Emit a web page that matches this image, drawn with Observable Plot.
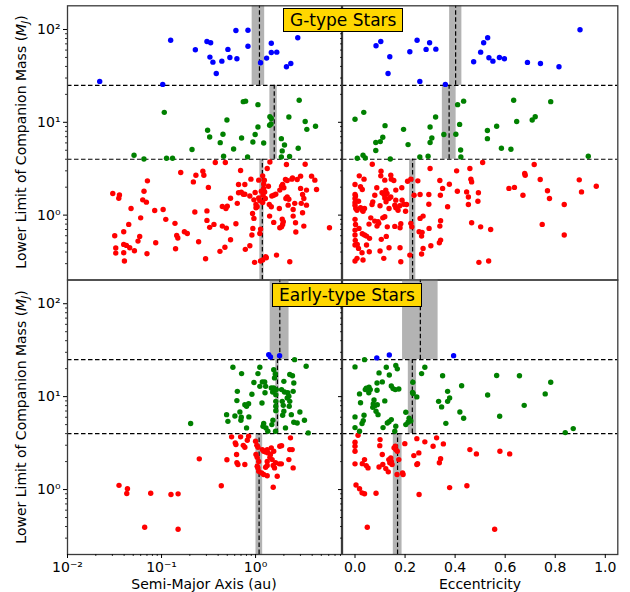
<!DOCTYPE html>
<html><head><meta charset="utf-8">
<script src="https://cdn.jsdelivr.net/npm/d3@7"></script>
<script src="https://cdn.jsdelivr.net/npm/@observablehq/plot@0.6"></script>
<style>
body{margin:0;background:#fff;}
#fig{position:relative;width:630px;height:592px;font-family:"DejaVu Sans",sans-serif;overflow:hidden;background:#fff}
.panel{position:absolute}
.ylab{position:absolute;font-size:14px;white-space:nowrap;transform:translate(-50%,-50%) rotate(-90deg);color:#000}
.xlab{position:absolute;font-size:14px;white-space:nowrap;transform:translate(-50%,-50%);color:#000}
.tbox{position:absolute;background:#FFD700;border:1px solid #000;font-size:17px;line-height:22px;padding:0 6px;white-space:nowrap;color:#000}
</style></head>
<body><div id="fig"></div>
<script>
// ---------- data ----------
const panelTitles = ["G-type Stars", "Early-type Stars"];
const massBins = [4, 25];
const yDomain = [0.2, 180];
const smaDomain = [0.01, 8.2];
const eccDomain = [-0.05, 1.05];
const yTickValues = [1, 10, 100];
const yTickLabels = ["10\u2070", "10\u00b9", "10\u00b2"];
const smaTickValues = [0.01, 0.1, 1];
const smaTickLabels = ["10\u207b\u00b2", "10\u207b\u00b9", "10\u2070"];
const eccTickValues = [0, 0.2, 0.4, 0.6, 0.8, 1.0];
const eccTickLabels = ["0.0", "0.2", "0.4", "0.6", "0.8", "1.0"];

// bands: [low, median, high] for red / green / blue bins
const gSmaBands = [[1.11, 1.18, 1.23], [1.42, 1.58, 1.70], [0.92, 1.10, 1.25]];
const gEccBands = [[0.218, 0.230, 0.243], [0.349, 0.376, 0.404], [0.378, 0.402, 0.427]];
const eSmaBands = [[1.01, 1.09, 1.19], [1.64, 1.71, 1.78], [1.43, 1.81, 2.27]];
const eEccBands = [[0.153, 0.170, 0.188], [0.213, 0.229, 0.246], [0.190, 0.261, 0.332]];

// G-type stars: [semi-major axis (au), mass (MJ)]
const gSmaBlue = [[0.022,27.6],[0.103,25.6],[0.125,76.7],[0.229,60.5],[0.304,74.3],[0.333,71.9],[0.327,50.4],[0.352,44.5],[0.382,33.6],[0.438,45.6],[0.508,61],[0.533,50],[0.633,48.4],[0.618,97.5],[0.83,98],[0.83,66],[1.13,43.9],[1.31,49.2],[1.47,71.2],[1.47,56.6],[1.68,57],[2.13,39.7],[2.37,43],[2.81,81.5]];
const gSmaGreen = [[0.107,12.8],[0.051,4.42],[0.065,4.03],[0.113,4.10],[0.131,4.10],[0.211,5.09],[0.309,8.2],[0.325,6.95],[0.421,6.04],[0.45,7.43],[0.457,4.31],[0.496,10.6],[0.584,5.16],[0.71,6.78],[0.74,16.7],[0.783,16.9],[0.822,4.24],[0.937,6.14],[0.99,7.38],[1.06,8.9],[1.06,15.5],[1.22,5.99],[1.41,9.3],[1.46,9.6],[1.42,11.5],[1.47,11.0],[1.88,6.67],[2.03,5.70],[1.92,4.92],[1.88,4.24],[2.30,4.28],[2.26,11.4],[2.91,17.3],[2.84,5.25],[3.37,10.2],[3.51,8.4],[4.34,9.06]];
const gSmaRed = [[0.373,3.69],[0.477,3.69],[0.160,2.88],[0.232,2.69],[0.275,2.97],[0.282,2.69],[0.218,2.28],[0.0708,2.34],[0.315,1.99],[0.0651,1.81],[0.0303,1.71],[0.0357,1.65],[0.0351,1.52],[0.0631,1.46],[0.069,1.38],[0.0474,1.18],[0.0846,1.12],[0.104,1.15],[0.226,1.08],[0.304,1.11],[0.443,1.24],[0.484,1.18],[0.500,1.25],[0.060,0.935],[0.111,0.90],[0.304,0.877],[0.0448,0.794],[0.139,0.815],[0.361,0.794],[0.325,0.738],[0.443,0.762],[0.489,0.725],[0.0318,0.599],[0.0396,0.661],[0.0586,0.590],[0.0562,0.525],[0.145,0.605],[0.149,0.566],[0.175,0.661],[0.188,0.635],[0.0867,0.504],[0.248,0.516],[0.0326,0.442],[0.0396,0.484],[0.0423,0.472],[0.0459,0.445],[0.0326,0.390],[0.0396,0.393],[0.0515,0.413],[0.070,0.384],[0.141,0.434],[0.0403,0.320],[0.294,0.339],[0.418,0.407],[0.472,0.450],
[1.33,3.18],[1.42,3.74],[2.13,3.51],[3.37,3.53],[0.693,3.02],[0.659,2.14],[0.769,2.14],[0.892,2.44],[1.08,2.38],[1.19,2.65],[0.542,1.52],[0.659,1.74],[0.705,1.77],[0.74,1.68],[0.769,1.68],[0.639,1.34],[0.869,1.61],[0.99,1.75],[0.96,1.46],[1.01,1.30],[1.04,1.23],[1.01,1.20],[1.08,1.53],[1.11,1.44],[1.15,1.81],[1.22,1.94],[1.22,2.17],[1.24,2.38],[1.25,1.78],[1.27,1.51],[1.20,1.64],[1.19,1.37],[1.37,2.05],[1.40,1.30],[1.47,1.23],[1.49,1.61],[1.56,1.64],[1.64,1.68],[1.79,1.18],[1.81,1.86],[1.89,2.05],[2.00,1.97],[1.94,2.14],[2.08,2.42],[2.17,2.36],[2.43,2.44],[2.47,2.52],[2.77,2.42],[3.01,2.63],[2.10,1.51],[2.17,1.57],[2.26,1.48],[2.22,1.28],[2.61,1.34],[3.06,1.34],[3.48,1.28],[3.01,1.94],[3.48,1.86],[3.16,1.67],[3.26,1.51],[3.94,2.63],[4.27,2.38],[4.45,1.89],[2.51,1.15],[2.51,0.976],[3.16,1.06],[0.929,1.04],[0.96,0.922],[1.41,0.976],[1.56,0.835],[1.92,0.906],[1.97,0.847],[1.94,0.794],[1.89,0.748],[1.81,0.730],[2.66,0.827],[3.26,0.762],[2.68,0.657],[6.11,0.730],[0.914,0.610],[0.936,0.719],[0.542,0.542],[0.618,0.806],[1.13,0.707],[1.11,0.635],[0.778,0.428],[0.869,0.468],[0.976,0.310],[1.13,0.320],[1.19,0.328],[1.28,0.356],[1.30,0.347],[1.67,0.371],[2.31,0.315]];

// G-type stars: [eccentricity, mass (MJ)]
const gEccBlue = [[0.084,66.8],[0.103,74.3],[0.139,50.9],[0.132,33.6],[0.219,57.5],[0.248,76.7],[0.259,27.6],[0.284,61],[0.298,71.9],[0.323,61.4],[0.361,25.6],[0.474,45],[0.502,57],[0.514,71.9],[0.530,81.5],[0.535,49.6],[0.551,45.6],[0.577,50],[0.597,48.4],[0.689,44.2],[0.741,43],[0.815,39.7],[0.899,99.3]];
const gEccGreen = [[0.0,10.8],[0.035,12.8],[0.009,4.10],[0.032,4.42],[0.041,4.13],[0.083,4.96],[0.083,6.05],[0.101,6.2],[0.111,6.9],[0.120,9.2],[0.141,4.03],[0.194,8.4],[0.212,5.75],[0.259,4.24],[0.292,4.31],[0.300,8.9],[0.307,6.78],[0.300,6.05],[0.322,11.4],[0.355,7.38],[0.403,7.43],[0.410,15.5],[0.434,16.9],[0.418,9.5],[0.422,5.04],[0.423,4.24],[0.529,8.15],[0.529,6.67],[0.566,9.06],[0.585,5.25],[0.623,5.13],[0.634,17.3],[0.646,10.2],[0.708,10.6],[0.720,11.5],[0.782,16.7],[0.932,4.31]];
const gEccRed = [[0.069,3.53],[0.104,2.97],[0.017,2.65],[0.036,2.44],[0.103,2.65],[0.119,2.38],[0.143,2.69],[0.145,2.44],[0.155,2.36],[0.0,2.14],[0.022,2.02],[0.029,1.89],[0.087,1.97],[0.123,1.86],[0.128,1.71],[0.108,1.74],[0.163,1.86],[0.187,1.97],
[0.0,1.67],[0.002,1.61],[0.0,1.51],[0.0,1.37],[0.0,1.28],[0.003,1.18],[0.008,1.13],[0.014,1.41],[0.022,1.20],[0.030,1.13],[0.038,1.18],[0.032,1.10],[0.079,1.64],[0.116,1.67],[0.119,1.53],[0.071,1.39],[0.068,1.30],[0.100,1.26],[0.124,1.39],[0.136,1.51],[0.143,1.57],[0.163,1.45],[0.188,1.45],[0.195,1.31],[0.179,1.26],[0.159,1.28],[0.136,1.18],[0.163,1.20],[0.172,1.13],[0.206,1.30],[0.202,1.10],
[0.223,2.44],[0.210,2.32],[0.236,1.64],[0.251,2.34],[0.260,1.67],[0.295,1.67],[0.295,1.31],[0.300,3.18],[0.339,2.36],[0.350,1.94],[0.377,2.15],[0.341,1.64],[0.406,3.00],[0.409,1.81],[0.459,3.18],[0.463,2.44],[0.446,1.78],[0.453,1.57],[0.453,1.30],[0.493,1.74],
[0.0,0.90],[0.002,0.794],[0.0,0.690],[0.0,0.610],[0.001,0.535],[0.0,0.476],[0.016,0.719],[0.029,0.629],[0.038,0.610],[0.046,0.594],[0.009,0.484],[0.014,0.438],[0.046,0.476],[0.063,0.935],[0.056,0.800],[0.058,0.562],[0.0,0.320],[0.008,0.342],[0.028,0.393],[0.032,0.328],[0.079,0.862],[0.092,0.847],[0.088,0.762],[0.111,0.935],[0.119,0.959],[0.095,0.815],[0.129,0.748],[0.125,0.590],[0.105,0.548],[0.159,0.756],[0.180,0.730],[0.183,0.806],[0.136,0.445],[0.180,0.445],[0.100,0.410],[0.115,0.342],[0.057,0.403],[0.183,0.315],[0.223,0.815],[0.227,0.748],[0.219,0.371],[0.260,0.922],[0.272,0.976],[0.256,0.661],[0.268,0.652],[0.266,0.594],[0.272,0.438],[0.266,0.381],[0.296,0.719],[0.303,0.468],[0.337,0.504],[0.342,0.538],[0.342,0.869],[0.339,0.762],[0.370,1.23],[0.466,0.827],[0.502,0.748],[0.495,0.310],
[0.510,3.69],[0.466,2.28],[0.491,1.41],[0.716,3.51],[0.678,2.81],[0.680,2.69],[0.615,1.94],[0.637,1.99],[0.740,2.42],[0.671,1.64],[0.769,1.83],[0.777,1.51],[0.896,2.40],[0.905,1.78],[0.964,2.05],[0.836,1.30],[0.542,0.701],[0.748,0.794],[0.836,0.610],[0.534,0.320]];

// Early-type stars: [semi-major axis (au), mass (MJ)]
const eSmaBlue = [[1.38,28.3],[1.44,26.7],[1.80,27.6]];
const eSmaGreen = [[0.204,5.13],[0.574,20.7],[0.64,11.4],[0.633,9.06],[0.492,6.4],[0.508,5.42],[0.603,6.2],[0.681,6.84],[0.705,6.0],[0.698,5.56],[0.769,8.2],[0.802,7.87],[0.843,8.4],[0.849,6.05],[0.802,4.61],[0.914,10.6],[1.06,17.7],[1.11,20.7],[1.11,12.9],[1.18,14.4],[1.25,14.4],[1.28,12.9],[1.17,8.55],[1.26,11],[1.22,5.13],[1.20,4.8],[1.29,4.61],[1.35,4.24],[1.49,5.0],[1.53,5.56],[1.56,19.5],[1.62,17.5],[1.59,15.9],[1.47,12.4],[1.56,12.4],[1.66,11.9],[1.52,11.2],[1.64,10.5],[1.64,8.9],[1.64,7.87],[1.64,7.07],[1.63,4.24],[1.89,11.9],[1.92,8.9],[1.97,8.06],[2.0,6.95],[1.94,6.3],[2.0,14.6],[2.03,11.2],[2.20,11],[2.08,4.61],[2.17,9.68],[2.26,10.1],[2.31,8.9],[2.28,7.87],[2.40,6.4],[2.31,17.3],[2.47,16.8],[2.55,14.0],[2.51,11.4],[2.60,25],[2.55,5.3],[2.77,5.21],[2.96,6.84],[3.31,5.56],[3.45,21.2],[3.63,4.07],[0.71,17.7],[0.96,14.2]];
const eSmaRed = [[0.0353,1.11],[0.0434,1.02],[0.0427,0.906],[0.0767,0.912],[0.126,0.884],[0.150,0.899],[0.0662,0.393],[0.150,0.374],[0.252,2.14],[0.432,1.10],[0.496,2.09],[0.556,3.69],[0.608,3.18],[0.618,3.05],[0.628,2.38],[0.633,1.94],[0.649,1.86],[0.769,1.86],[0.693,3.69],[0.740,2.99],[0.769,2.85],[0.843,3.74],[0.817,3.39],[1.0,3.31],[1.03,2.99],[1.06,2.85],[1.01,2.38],[1.04,2.22],[1.08,2.01],[1.04,1.78],[1.06,1.71],[1.08,1.57],[1.16,1.51],[1.22,1.45],[1.33,1.41],[1.28,1.74],[1.33,1.82],[1.33,2.01],[1.18,2.69],[1.22,2.58],[1.28,2.54],[1.33,2.69],[1.36,2.48],[1.44,2.38],[1.47,2.81],[1.56,2.58],[1.42,2.22],[1.50,2.10],[1.54,1.82],[1.59,1.71],[1.63,1.94],[1.79,1.89],[1.88,1.89],[1.81,2.92],[1.89,2.97],[1.54,1.06],[1.70,1.39],[2.26,2.10],[2.31,2.69],[2.45,2.69],[2.35,3.60],[2.51,1.71]];

// Early-type stars: [eccentricity, mass (MJ)]
const eEccBlue = [[0.087,26.1],[0.137,28.1],[0.394,27.6]];
const eEccGreen = [[0.0,20.9],[0.038,25.0],[0.125,20.7],[0.163,21.6],[0.169,19.9],[0.279,20.7],[0.096,18],[0.137,17.1],[0.266,17.7],[0.350,16.8],[0.088,14.0],[0.109,14.4],[0.145,13.0],[0.152,12.2],[0.161,11.9],[0.175,12.1],[0.045,12.3],[0.056,12.6],[0.061,11.9],[0.041,11.9],[0.088,11.7],[0.055,11.0],[0.018,10.7],[0.231,14.3],[0.230,11.1],[0.232,10.8],[0.247,9.93],[0.119,9.0],[0.076,9.2],[0.022,8.6],[0.073,8.35],[0.079,8.0],[0.089,8.2],[0.071,7.67],[0.334,8.9],[0.370,11.4],[0.378,9.68],[0.370,8.9],[0.346,7.75],[0.426,13.1],[0.084,6.95],[0.092,6.4],[0.036,6.3],[0.0,6.05],[0.203,6.78],[0.419,6.84],[0.434,5.85],[0.033,5.52],[0.028,5.13],[0.145,5.66],[0.136,5.38],[0.129,5.21],[0.216,5.85],[0.223,5.48],[0.212,5.30],[0.203,5.0],[0.363,5.16],[0.0,4.64],[0.018,4.24],[0.112,4.64],[0.163,4.80],[0.159,4.24],[0.840,4.10],[0.872,4.53],[0.782,14.3],[0.760,10.7],[0.676,8.06],[0.657,16.8],[0.566,16.9],[0.578,6.14],[0.530,10.4]];
const eEccRed = [[0.012,3.84],[0.0,3.23],[0.0,2.92],[0.0,2.58],[0.0,1.89],[0.029,1.90],[0.038,2.10],[0.045,1.81],[0.052,1.71],[0.100,3.45],[0.099,2.97],[0.109,2.38],[0.096,1.75],[0.111,1.86],[0.123,1.68],[0.133,1.55],[0.135,2.10],[0.143,2.19],[0.139,1.94],[0.145,2.01],[0.148,1.86],[0.156,2.81],[0.161,2.92],[0.163,2.69],[0.169,2.58],[0.175,2.10],[0.168,1.45],[0.190,1.51],[0.192,1.45],[0.199,3.12],[0.247,3.53],[0.279,3.26],[0.312,2.92],[0.326,3.60],[0.353,3.10],[0.235,2.32],[0.255,2.48],[0.247,1.86],[0.250,1.90],[0.342,2.15],[0.337,1.94],[0.459,2.69],[0.485,2.42],[0.004,1.12],[0.018,1.02],[0.028,0.922],[0.038,0.90],[0.084,0.912],[0.256,0.884],[0.378,1.05],[0.447,1.10],[0.049,0.393],[0.558,0.374],[0.579,2.58],[0.618,2.42]];

// ---------- drawing ----------
const colors = {red: "#ff0000", green: "#008000", blue: "#0000ff"};
const fig = document.getElementById("fig");

function minorTicks(lo, hi) {
  const out = [];
  for (let d = 0.001; d <= 1000; d *= 10)
    for (let k = 2; k <= 9; k++) { const v = d * k; if (v > lo && v < hi) out.push(+v.toPrecision(3)); }
  return out;
}

function makePanel(opt) {
  const isLog = opt.kind === "sma";
  const xDomain = isLog ? smaDomain : eccDomain;
  const yEdges = [yDomain[0], massBins[0], massBins[1], yDomain[1]];
  const bands = opt.bands.map((b, i) => ({lo: b[0], med: b[1], hi: b[2], y1: yEdges[i], y2: yEdges[i + 1]}));
  const pts = [];
  for (const [key, arr] of [["red", opt.red], ["green", opt.green], ["blue", opt.blue]])
    for (const [x, y] of arr) pts.push({x, y, c: colors[key]});
  const dash = "4.5,2.5";
  const marks = [
    Plot.rect(bands, {x1: "lo", x2: "hi", y1: "y1", y2: "y2", fill: "#b3b3b3"}),
    Plot.ruleX(bands, {x: "med", y1: "y1", y2: "y2", stroke: "#000", strokeWidth: 1.2, strokeDasharray: dash}),
    Plot.ruleY(massBins, {stroke: "#000", strokeWidth: 1.2, strokeDasharray: dash}),
    Plot.dot(pts, {x: "x", y: "y", fill: "c", r: 2.7, stroke: null}),
    Plot.frame({stroke: "#3a3a3a", strokeWidth: 1.3}),
    Plot.axisY(minorTicks(yDomain[0], yDomain[1]), {anchor: "left", tickSize: 2, tickFormat: () => "", label: null, strokeWidth: 0.8}),
    Plot.axisY(yTickValues, {anchor: "left", tickSize: 4, tickPadding: 3, label: null, strokeWidth: 1,
      tickFormat: opt.yLabels ? (d => yTickLabels[yTickValues.indexOf(d)]) : (() => ""), fontSize: 14})
  ];
  if (opt.bottom) {
    if (isLog) {
      marks.push(Plot.axisX(minorTicks(xDomain[0], xDomain[1]), {anchor: "bottom", tickSize: 2, tickFormat: () => "", label: null, strokeWidth: 0.8}));
      marks.push(Plot.axisX(smaTickValues, {anchor: "bottom", tickSize: 4, tickPadding: 4, label: null, fontSize: 14,
        tickFormat: d => smaTickLabels[smaTickValues.indexOf(d)]}));
    } else {
      marks.push(Plot.axisX(eccTickValues, {anchor: "bottom", tickSize: 4, tickPadding: 4, label: null, fontSize: 14,
        tickFormat: d => eccTickLabels[eccTickValues.indexOf(d)]}));
    }
  }
  const svg = Plot.plot({
    width: opt.width, height: opt.height,
    marginLeft: opt.ml, marginRight: opt.mr, marginTop: opt.mt, marginBottom: opt.mb,
    x: {type: isLog ? "log" : "linear", domain: xDomain, axis: opt.bottom ? undefined : null},
    y: {type: "log", domain: yDomain},
    style: {fontFamily: "DejaVu Sans, sans-serif", fontSize: "14px", overflow: "visible", background: "transparent", color: "#000"},
    marks
  });
  svg.classList.add("panel");
  svg.style.left = opt.left + "px";
  svg.style.top = opt.top + "px";
  svg.style.position = "absolute";
  fig.appendChild(svg);
}

const topH = 280, botTop = 279, botH = 592 - 279;
makePanel({kind: "sma", bands: gSmaBands, red: gSmaRed, green: gSmaGreen, blue: gSmaBlue, yLabels: true, bottom: false,
  left: 0, top: 0, width: 341, height: topH, ml: 67, mr: 0, mt: 5.3, mb: 0.5});
makePanel({kind: "ecc", bands: gEccBands, red: gEccRed, green: gEccGreen, blue: gEccBlue, yLabels: false, bottom: false,
  left: 341, top: 0, width: 289, height: topH, ml: 1, mr: 12.7, mt: 5.3, mb: 0.5});
makePanel({kind: "sma", bands: eSmaBands, red: eSmaRed, green: eSmaGreen, blue: eSmaBlue, yLabels: true, bottom: true,
  left: 0, top: botTop, width: 341, height: botH, ml: 67, mr: 0, mt: 0.5, mb: 38});
makePanel({kind: "ecc", bands: eEccBands, red: eEccRed, green: eEccGreen, blue: eEccBlue, yLabels: false, bottom: true,
  left: 341, top: botTop, width: 289, height: botH, ml: 1, mr: 12.7, mt: 0.5, mb: 38});

function addDiv(cls, html, x, y) {
  const d = document.createElement("div");
  d.className = cls; d.innerHTML = html;
  d.style.left = x + "px"; d.style.top = y + "px";
  fig.appendChild(d);
  return d;
}
const yLabelHtml = "Lower Limit of Companion Mass (<i>M</i><sub style='font-size:10px;font-style:italic'>J</sub>)";
addDiv("ylab", yLabelHtml, 22, 142);
addDiv("ylab", yLabelHtml, 22, 417);
addDiv("xlab", "Semi-Major Axis (au)", 204, 584);
addDiv("xlab", "Eccentricity", 480, 584);
addDiv("tbox", panelTitles[0], 283, 8);
addDiv("tbox", panelTitles[1], 272, 283);
</script></body></html>
